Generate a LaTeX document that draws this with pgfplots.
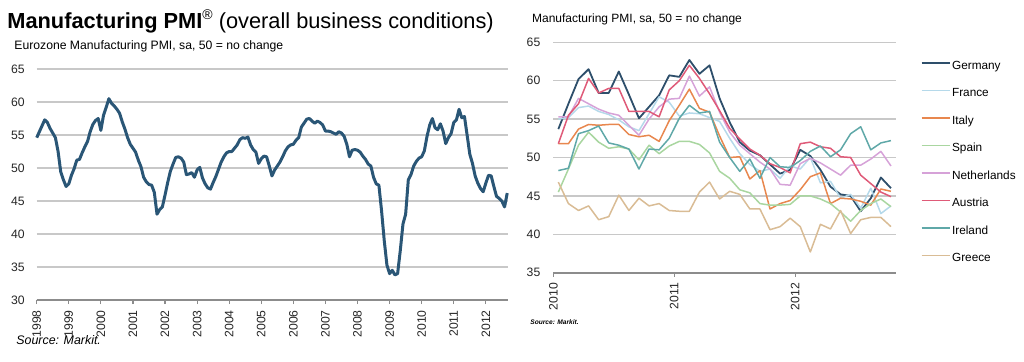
\documentclass[border=0pt]{standalone}
\usepackage{fontspec}
\setmainfont{Liberation Sans}
\usepackage{pgfplots}
\usepackage{pgfplotstable}
\pgfplotsset{compat=1.18}
\definecolor{ezblue}{HTML}{2A5676}
\definecolor{gridgray}{HTML}{C8C8C8}
\definecolor{axisgray}{HTML}{8C8C8C}
\definecolor{cDE}{HTML}{2E4F6B}
\definecolor{cFR}{HTML}{B5D9EA}
\definecolor{cIT}{HTML}{E8874E}
\definecolor{cES}{HTML}{A9D6A0}
\definecolor{cNL}{HTML}{D6A2D8}
\definecolor{cAT}{HTML}{DF5A78}
\definecolor{cIE}{HTML}{5FA8A8}
\definecolor{cGR}{HTML}{D9BC95}

\pgfplotstableread{
x DE FR IT ES NL AT IE GR
0.5 53.7 55.0 51.8 45.5 55.3 51.8 48.3 46.8
1.5 57.0 55.2 51.8 48.5 55.3 55.5 48.6 44.0
2.5 60.2 56.5 53.7 51.6 57.7 57.0 53.1 43.1
3.5 61.5 56.7 54.3 53.3 57.0 60.3 53.5 43.7
4.5 58.4 56.0 54.2 52.0 56.3 58.4 54.1 41.9
5.5 58.4 55.6 54.3 51.2 55.8 59.0 51.9 42.3
6.5 61.2 54.9 54.3 51.4 55.5 59.0 51.6 45.1
7.5 58.2 54.0 53.0 51.1 54.2 56.0 51.1 43.1
8.5 55.1 53.5 52.7 49.7 52.9 56.0 48.5 44.7
9.5 56.6 55.7 52.9 51.6 55.0 56.0 51.1 43.7
10.5 58.1 57.9 52.1 50.5 56.6 55.3 51.0 44.0
11.5 60.7 57.2 54.8 51.5 57.6 58.8 52.5 43.1
12.5 60.5 55.4 56.8 52.1 57.7 60.0 55.1 43.0
13.5 62.7 55.8 58.9 52.1 60.6 62.0 56.8 43.0
14.5 60.9 55.7 56.4 51.7 58.0 60.3 55.8 45.5
15.5 62.0 55.2 55.9 50.6 59.2 58.3 56.0 46.8
16.5 57.7 54.7 52.8 48.2 55.9 56.1 52.0 44.6
17.5 54.6 52.5 50.0 47.3 53.3 53.8 50.0 45.6
18.5 52.0 50.5 50.1 45.8 51.6 52.4 48.2 45.2
19.5 50.9 49.1 47.2 45.4 50.5 51.1 49.8 43.3
20.5 50.3 48.2 48.3 44.0 49.4 50.3 47.3 43.3
21.5 49.1 48.5 43.3 43.8 48.5 49.2 50.0 40.6
22.5 47.9 47.3 44.0 43.8 46.5 48.7 48.8 41.0
23.5 48.4 48.9 44.4 43.9 46.4 48.0 48.7 42.1
24.5 51.0 48.5 45.8 45.0 49.2 51.8 49.6 41.0
25.5 50.2 50.0 47.5 45.0 49.9 52.0 50.8 37.7
26.5 48.4 46.7 48.0 44.6 49.3 51.4 51.5 41.3
27.5 46.2 46.9 44.0 44.0 48.5 51.2 50.1 40.7
28.5 45.2 44.7 44.7 42.9 47.7 50.1 51.0 43.1
29.5 45.0 45.2 44.6 41.7 49.0 50.0 53.1 40.1
30.5 43.0 43.4 44.3 43.1 49.0 47.7 54.0 41.9
31.5 44.7 46.0 43.8 44.0 49.8 46.6 51.0 42.2
32.5 47.4 42.7 45.9 44.6 50.8 45.5 51.9 42.2
33.5 46.0 43.7 45.6 43.6 48.9 44.9 52.2 41.0
}\countries

\pgfplotsset{
  pmistyle/.style={
    scale only axis,
    axis x line*=bottom, axis y line*=left,
    y axis line style={draw=none},
    x axis line style={draw=axisgray, line width=0.9pt},
    ytick style={draw=none},
    xtick style={draw=axisgray, line width=0.6pt},
    tick align=outside,
    major tick length=2pt,
    ymajorgrids,
    grid style={draw=gridgray, line width=0.7pt},
    /pgf/number format/assume math mode=true,
    tick label style={font=\fontsize{6.1}{6.5}\selectfont, text=black!85},
    yticklabel style={anchor=east, inner sep=0pt},
    xticklabel style={rotate=90, anchor=east, inner sep=0pt},
    clip=false,
  }
}

\begin{document}
\begin{tikzpicture}
\path[use as bounding box] (0,0) rectangle (512pt,180.5pt);

% Titles
\node[anchor=base west, inner sep=0pt] at (3.5pt,166.35pt)
  {\fontsize{10.9}{12}\selectfont\textbf{Manufacturing PMI}\raisebox{0.75ex}{\fontsize{7}{7}\selectfont ®} (overall business conditions)};
\node[anchor=base west, inner sep=0pt] at (7pt,156pt)
  {\fontsize{6.1}{7}\selectfont Eurozone Manufacturing PMI, sa, 50 = no change};
\node[anchor=base west, inner sep=0pt] at (265.85pt,169.15pt)
  {\fontsize{6}{7}\selectfont Manufacturing PMI, sa, 50 = no change};
\node[anchor=base west, inner sep=0pt] at (8pt,8.5pt)
  {\fontsize{6.2}{7}\selectfont\itshape Source: Markit.};
\node[anchor=base west, inner sep=0pt] at (265pt,18.5pt)
  {\fontsize{3.3}{4}\selectfont\bfseries\itshape Source: Markit.};

% Left chart
\begin{axis}[pmistyle,
  at={(18.35pt,30.5pt)}, anchor=south west,
  width=235.8pt, height=115.5pt,
  xmin=0, xmax=176.4, ymin=30, ymax=65,
  ytick={30,35,...,65},
  xtick={0,12,...,168},
  xticklabels={1998,1999,2000,2001,2002,2003,2004,2005,2006,2007,2008,2009,2010,2011,2012},
  xticklabel shift=3pt,
  yticklabel shift=3.8pt,
]
\addplot[ezblue, line width=1.5pt, line join=round] coordinates {
(0,54.6)(1,55.5)(2,56.4)(3,57.3)(4,56.9)(5,56.0)(6,55.3)(7,54.6)(8,52.5)(9,49.4)
(10,48.2)(11,47.2)(12,47.6)(13,48.9)(14,49.9)(15,51.2)(16,51.3)(17,52.3)(18,53.2)(19,54.0)
(20,55.5)(21,56.6)(22,57.2)(23,57.5)(24,55.7)(25,58.0)(26,59.2)(27,60.5)(28,59.8)(29,59.4)
(30,58.9)(31,58.3)(32,57.0)(33,55.9)(34,54.6)(35,53.6)(36,53.0)(37,52.4)(38,51.2)(39,50.2)
(40,48.6)(41,47.9)(42,47.5)(43,47.4)(44,46.3)(45,43.0)(46,43.7)(47,44.1)(48,45.9)(49,47.8)
(50,49.5)(51,50.6)(52,51.6)(53,51.7)(54,51.5)(55,50.9)(56,49.0)(57,49.1)(58,49.3)(59,48.6)
(60,49.7)(61,50.1)(62,48.5)(63,47.6)(64,47.0)(65,46.8)(66,47.8)(67,48.7)(68,49.8)(69,50.9)
(70,51.7)(71,52.3)(72,52.5)(73,52.5)(74,53.0)(75,53.5)(76,54.3)(77,54.6)(78,54.5)(79,54.7)
(80,53.5)(81,52.8)(82,52.4)(83,50.7)(84,51.4)(85,51.8)(86,51.7)(87,50.3)(88,48.8)(89,49.7)
(90,50.3)(91,50.9)(92,51.7)(93,52.6)(94,53.2)(95,53.5)(96,53.6)(97,54.2)(98,54.6)(99,56.2)
(100,56.8)(101,57.4)(102,57.5)(103,57.1)(104,56.8)(105,57.1)(106,56.9)(107,56.5)(108,55.6)(109,55.6)
(110,55.5)(111,55.3)(112,55.1)(113,55.5)(114,55.3)(115,54.8)(116,53.6)(117,51.7)(118,52.7)(119,52.8)
(120,52.7)(121,52.4)(122,51.8)(123,51.3)(124,50.6)(125,50.3)(126,48.6)(127,47.6)(128,47.4)(129,43.5)
(130,39.0)(131,35.3)(132,34.0)(133,34.5)(134,33.8)(135,34.0)(136,37.5)(137,41.5)(138,43.0)(139,48.2)
(140,49.0)(141,50.3)(142,51.0)(143,51.5)(144,51.7)(145,52.6)(146,54.8)(147,56.5)(148,57.5)(149,56.1)
(150,55.8)(151,56.7)(152,55.6)(153,53.7)(154,54.6)(155,55.2)(156,56.9)(157,57.3)(158,58.9)(159,57.6)
(160,57.8)(161,55.0)(162,52.1)(163,50.7)(164,48.8)(165,47.7)(166,46.9)(167,46.4)(168,47.7)(169,48.9)
(170,48.8)(171,47.2)(172,45.7)(173,45.4)(174,45.0)(175,44.1)(176,46.2)
};
\end{axis}

% Right chart
\begin{axis}[pmistyle,
  at={(276.65pt,44.15pt)}, anchor=south west,
  width=171.35pt, height=115.2pt,
  xmin=0, xmax=34, ymin=35, ymax=65,
  ytick={35,40,...,65},
  xtick={0,12,24},
  xticklabels={2010,2011,2012},
  xticklabel shift=3pt,
  yticklabel shift=4.3pt,
  legend style={at={(1.072,0.9205)}, anchor=north west, draw=none, fill=none,
    inner sep=0pt, outer sep=0pt,
    font=\fontsize{5.9}{6}\selectfont, legend cell align=left,
    row sep=7.95pt,
    nodes={inner sep=0pt, inner xsep=0.8pt, text height=4.4pt, text depth=1.4pt}},
  legend image code/.code={\draw[#1] (0pt,1.6pt) -- (14pt,1.6pt);},
  every axis plot/.append style={line width=0.75pt, line join=round},
]
\addplot[cDE, line width=0.9pt] table[x=x,y=DE]{\countries};
\addplot[cFR] table[x=x,y=FR]{\countries};
\addplot[cIT] table[x=x,y=IT]{\countries};
\addplot[cES] table[x=x,y=ES]{\countries};
\addplot[cNL] table[x=x,y=NL]{\countries};
\addplot[cAT] table[x=x,y=AT]{\countries};
\addplot[cIE] table[x=x,y=IE]{\countries};
\addplot[cGR] table[x=x,y=GR]{\countries};
\legend{Germany,France,Italy,Spain,Netherlands,Austria,Ireland,Greece}
\end{axis}
\end{tikzpicture}
\end{document}
